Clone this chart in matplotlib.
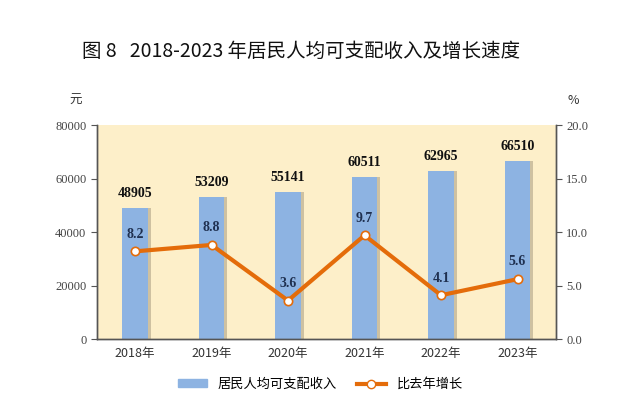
import numpy as np
import matplotlib
matplotlib.use('Agg')
import matplotlib.pyplot as plt
from matplotlib.patches import Patch
from matplotlib.lines import Line2D

plt.rcParams['font.family'] = ['Noto Sans CJK SC', 'DejaVu Sans']

years = ['2018年', '2019年', '2020年', '2021年', '2022年', '2023年']
income = [48905, 53209, 55141, 60511, 62965, 66510]
growth = [8.2, 8.8, 3.6, 9.7, 4.1, 5.6]

serif = 'Liberation Serif'
bar_color = '#8DB3E2'
line_color = '#E46C0A'
bg_color = '#FDEFC9'

fig = plt.figure(figsize=(6.41, 4.09), dpi=100)
ax = fig.add_axes([0.151, 0.171, 0.716, 0.523])
ax2 = ax.twinx()

x = np.arange(len(years))
width = 0.33

ax.set_facecolor(bg_color)
# shadow behind bars
ax.bar(x + 0.04, income, width, color='#A89C80', alpha=0.55, zorder=1)
ax.bar(x, income, width, color=bar_color, zorder=2)
for xi, v in zip(x, income):
    ax.text(xi, v + 3000, str(v), ha='center', va='bottom', fontsize=10,
            fontweight='bold', family=serif, color='#111111')

ax.set_xlim(-0.5, 5.5)
ax.set_ylim(0, 80000)
ax.set_yticks([0, 20000, 40000, 60000, 80000])
ax.set_xticks(x)
ax.set_xticklabels(years, fontsize=9, color='#333333')
ax.tick_params(axis='x', length=0, pad=6)
ax.tick_params(axis='y', length=4, color='#555555', labelsize=9, labelcolor='#444444')
for lab in ax.get_yticklabels():
    lab.set_family(serif)

ax2.plot(x, growth, color=line_color, lw=3, marker='o', markersize=6,
         markerfacecolor='white', markeredgecolor=line_color,
         markeredgewidth=1.2, zorder=5)
for xi, v in zip(x, growth):
    ax2.text(xi, v + 1.0, f'{v:.1f}', ha='center', va='bottom', fontsize=10,
             fontweight='bold', family=serif, color='#1F3050')
ax2.set_ylim(0, 20)
ax2.set_yticks([0, 5, 10, 15, 20])
ax2.set_yticklabels(['0.0', '5.0', '10.0', '15.0', '20.0'], family=serif)
ax2.tick_params(axis='y', length=4, color='#555555', labelsize=9, labelcolor='#444444')

for a in (ax, ax2):
    a.spines['top'].set_visible(False)
    for s in ('left', 'right', 'bottom'):
        a.spines[s].set_color('#555555')
        a.spines[s].set_linewidth(1.0)
ax.set_zorder(0)
ax2.set_zorder(1)
ax2.patch.set_visible(False)

fig.text(0.118, 0.745, '元', fontsize=9, color='#333333', ha='center')
fig.text(0.895, 0.745, '%', fontsize=9, color='#333333', ha='center')

fig.text(0.47, 0.875, '图 8   2018-2023 年居民人均可支配收入及增长速度', ha='center',
         va='center', fontsize=14, color='#111111')

# legend
handles = [Patch(color=bar_color),
           Line2D([], [], color=line_color, lw=3, marker='o', markersize=6,
                  markerfacecolor='white', markeredgecolor=line_color)]
fig.legend(handles, ['居民人均可支配收入', '比去年增长'], loc='center',
           bbox_to_anchor=(0.5, 0.06), ncol=2, frameon=False, fontsize=9.5,
           handlelength=2.2, handleheight=0.6, columnspacing=1.5)

fig.savefig('out.png', dpi=100, facecolor='white')
